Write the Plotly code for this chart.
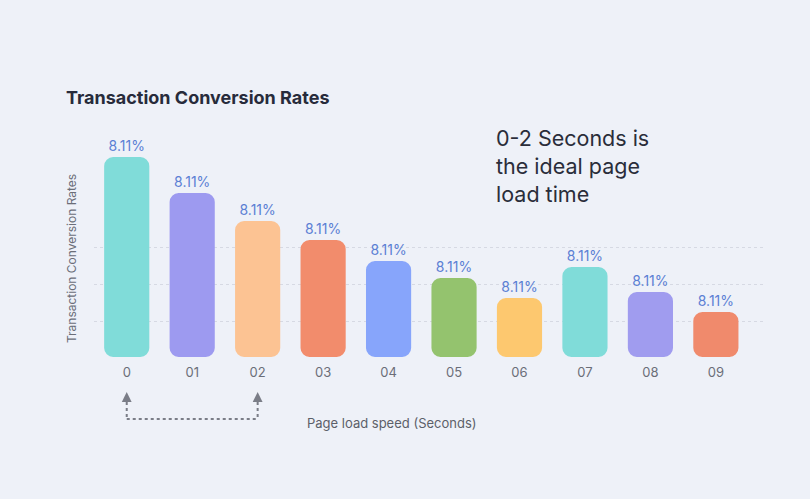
import plotly.graph_objects as go

categories = ["0", "01", "02", "03", "04", "05", "06", "07", "08", "09"]
rates = [200, 164, 136, 117, 96, 79, 59, 90, 65, 45]
labels = ["8.11%"] * 10
colors = ["#80dcd9", "#9d9af0", "#fcc393", "#f28c6c", "#87a5fb",
          "#94c36e", "#fdc86f", "#80dcd9", "#a09cef", "#f08a6c"]
grid_vals = [36, 73, 110]

W, H = 810, 499
ML, MR, MT, MB = 94, 47, 130, 142
pw, ph = W - ML - MR, H - MT - MB

def px(x):
    return (x - ML) / pw

def py(y):
    return (H - MB - y) / ph

xs = list(range(len(categories)))
BG = "#eef1f8"
GRAY = "#7a7d87"

fig = go.Figure()
fig.add_trace(go.Bar(x=xs, y=rates, base=[0] * len(rates),
                     marker=dict(color=colors, cornerradius=9, line=dict(width=0)),
                     width=0.69, text=labels, textposition="outside",
                     textfont=dict(family="Inter", size=14, color="#5b80d4"),
                     cliponaxis=False, showlegend=False))

fig.update_layout(
    width=W, height=H, margin=dict(l=ML, r=MR, t=MT, b=MB),
    paper_bgcolor=BG, plot_bgcolor=BG,
    font=dict(family="Inter", color="#666"),
    xaxis=dict(range=[-0.5, 9.72], tickvals=xs, ticktext=categories,
               showgrid=False, zeroline=False, showline=False, ticks="",
               tickfont=dict(family="Inter", size=13, color="#6b6e78"),
               ticklabelstandoff=6),
    yaxis=dict(range=[0, ph], tickvals=grid_vals, showticklabels=False,
               showgrid=True, gridcolor="#d6d9e3", griddash="dot", gridwidth=1,
               zeroline=False, showline=False),
)

# dotted connector with arrow heads (x in data, y in paper)
for xv in (0, 2):
    fig.add_shape(type="line", xref="x", yref="paper", x0=xv, x1=xv, y0=py(402), y1=py(419),
                  line=dict(color=GRAY, width=2, dash="dot"))
    fig.add_shape(type="path", xref="x", yref="paper",
                  path=f"M {xv - 0.075} {py(402)} L {xv + 0.075} {py(402)} L {xv} {py(392)} Z",
                  fillcolor=GRAY, line=dict(width=0))
fig.add_shape(type="line", xref="x", yref="paper", x0=0, x1=2, y0=py(419), y1=py(419),
              line=dict(color=GRAY, width=2, dash="dot"))

fig.add_annotation(text="<b>Transaction Conversion Rates</b>", xref="paper", yref="paper",
                   x=px(64), y=py(97), xanchor="left", yanchor="middle", showarrow=False,
                   font=dict(family="Inter", size=18, color="#272b3b"))
fig.add_annotation(text="0-2 Seconds is<br>the ideal page<br>load time", xref="paper", yref="paper",
                   x=px(494), y=py(166), xanchor="left", yanchor="middle",
                   showarrow=False, align="left",
                   font=dict(family="Inter", size=21.5, color="#2a2d3a"))
fig.add_annotation(text="Page load speed (Seconds)", xref="paper", yref="paper",
                   x=px(392), y=py(423), xanchor="center", yanchor="middle", showarrow=False,
                   font=dict(family="Inter", size=13, color="#5c5f69"))
fig.add_annotation(text="Transaction Conversion Rates", xref="paper", yref="paper",
                   x=px(71), y=py(259), xanchor="center", yanchor="middle", showarrow=False,
                   textangle=-90, font=dict(family="Inter", size=12, color="#6b6e78"))

fig.write_html("out.html")
